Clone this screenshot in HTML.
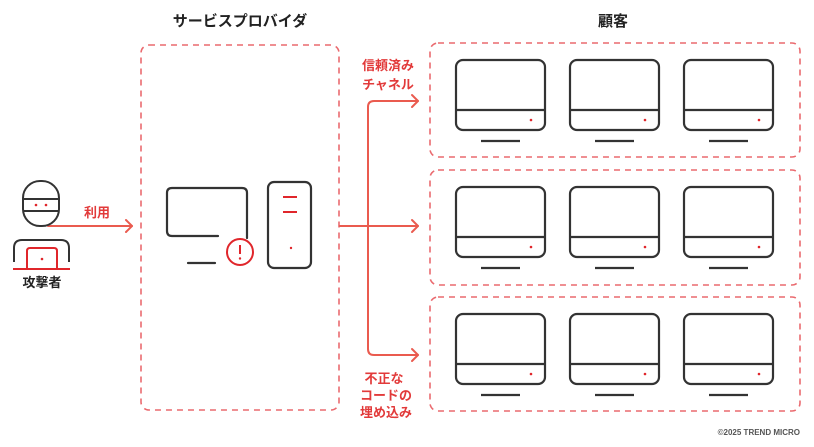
<!DOCTYPE html>
<html><head><meta charset="utf-8"><style>
html,body{margin:0;padding:0;background:#fff;}
svg{display:block;}
text{font-family:"Liberation Sans","Noto Sans CJK JP",sans-serif;font-weight:bold;}
</style></head><body>
<svg width="814" height="447" viewBox="0 0 814 447" xmlns="http://www.w3.org/2000/svg">
<defs>
<g id="mon">
<rect x="0" y="0" width="89" height="70" rx="7" fill="none" stroke="#333" stroke-width="2.2"/>
<line x1="0" y1="50" x2="89" y2="50" stroke="#333" stroke-width="2.2"/>
<circle cx="75" cy="60" r="1.3" fill="#e0262b"/>
<line x1="25" y1="81" x2="64" y2="81" stroke="#333" stroke-width="2.2"/>
</g>
</defs>
<g fill="none" stroke="#ea6a6f" stroke-width="1.6" stroke-dasharray="6,5">
<rect x="141" y="45" width="198" height="365" rx="8"/>
<rect x="430" y="43" width="370" height="114" rx="8"/>
<rect x="430" y="170" width="370" height="115" rx="8"/>
<rect x="430" y="297" width="370" height="114" rx="8"/>
</g>
<text x="240" y="26" font-size="15" text-anchor="middle" fill="#222">サービスプロバイダ</text>
<text x="613" y="26" font-size="15" text-anchor="middle" fill="#222">顧客</text>
<use href="#mon" x="456" y="60"/><use href="#mon" x="570" y="60"/><use href="#mon" x="684" y="60"/>
<use href="#mon" x="456" y="187"/><use href="#mon" x="570" y="187"/><use href="#mon" x="684" y="187"/>
<use href="#mon" x="456" y="314"/><use href="#mon" x="570" y="314"/><use href="#mon" x="684" y="314"/>
<g fill="none" stroke="#ea5b4f" stroke-width="2" stroke-linecap="round" stroke-linejoin="round">
<path d="M340 226 H418"/><path d="M412 220 L418 226 L412 232"/>
<path d="M418 101 H374 Q368 101 368 107 V349 Q368 355 374 355 H418"/>
<path d="M412 95 L418 101 L412 107"/><path d="M412 349 L418 355 L412 361"/>
<path d="M48 226 H132"/><path d="M126 220 L132 226 L126 232"/>
</g>
<g font-size="13" fill="#e23a3a" text-anchor="middle">
<text x="388" y="70">信頼済み</text><text x="388" y="89">チャネル</text>
<text x="384" y="383">不正な</text><text x="386" y="400">コードの</text><text x="386" y="417">埋め込み</text>
<text x="97" y="217">利用</text>
</g>
<g fill="none" stroke="#333" stroke-width="2">
<rect x="23" y="181" width="36" height="45" rx="17"/>
<line x1="23" y1="199" x2="59" y2="199"/><line x1="23" y1="211" x2="59" y2="211"/>
<path d="M14 262 V248 Q14 240 22 240 H61 Q69 240 69 248 V262"/>
</g>
<circle cx="36" cy="205" r="1.3" fill="#e0262b"/><circle cx="46" cy="205" r="1.3" fill="#e0262b"/>
<g fill="none" stroke="#e0262b" stroke-width="2">
<path d="M27 268 V251 Q27 248 30 248 H54 Q57 248 57 251 V268"/>
<line x1="13" y1="269" x2="70" y2="269"/>
</g>
<circle cx="42" cy="259" r="1.3" fill="#e0262b"/>
<text x="42" y="287" font-size="13" text-anchor="middle" fill="#222">攻撃者</text>
<g fill="none" stroke="#333" stroke-width="2.2" stroke-linecap="round">
<path d="M218 236 H172 Q167 236 167 231 V193 Q167 188 172 188 H242 Q247 188 247 193 V238"/>
<line x1="188" y1="263" x2="215" y2="263"/>
<rect x="268" y="182" width="43" height="86" rx="6"/>
</g>
<circle cx="240" cy="252" r="13" fill="#fff" stroke="#e0262b" stroke-width="2"/>
<line x1="240" y1="245" x2="240" y2="254" stroke="#e0262b" stroke-width="2"/>
<circle cx="240" cy="258.5" r="1.2" fill="#e0262b"/>
<g stroke="#e0262b" stroke-width="2"><line x1="283" y1="197" x2="297" y2="197"/><line x1="283" y1="212" x2="297" y2="212"/></g>
<circle cx="291" cy="248" r="1.2" fill="#e0262b"/>
<text x="800" y="435" font-size="8" text-anchor="end" fill="#555" font-weight="normal">©2025 TREND MICRO</text>
</svg>
</body></html>
